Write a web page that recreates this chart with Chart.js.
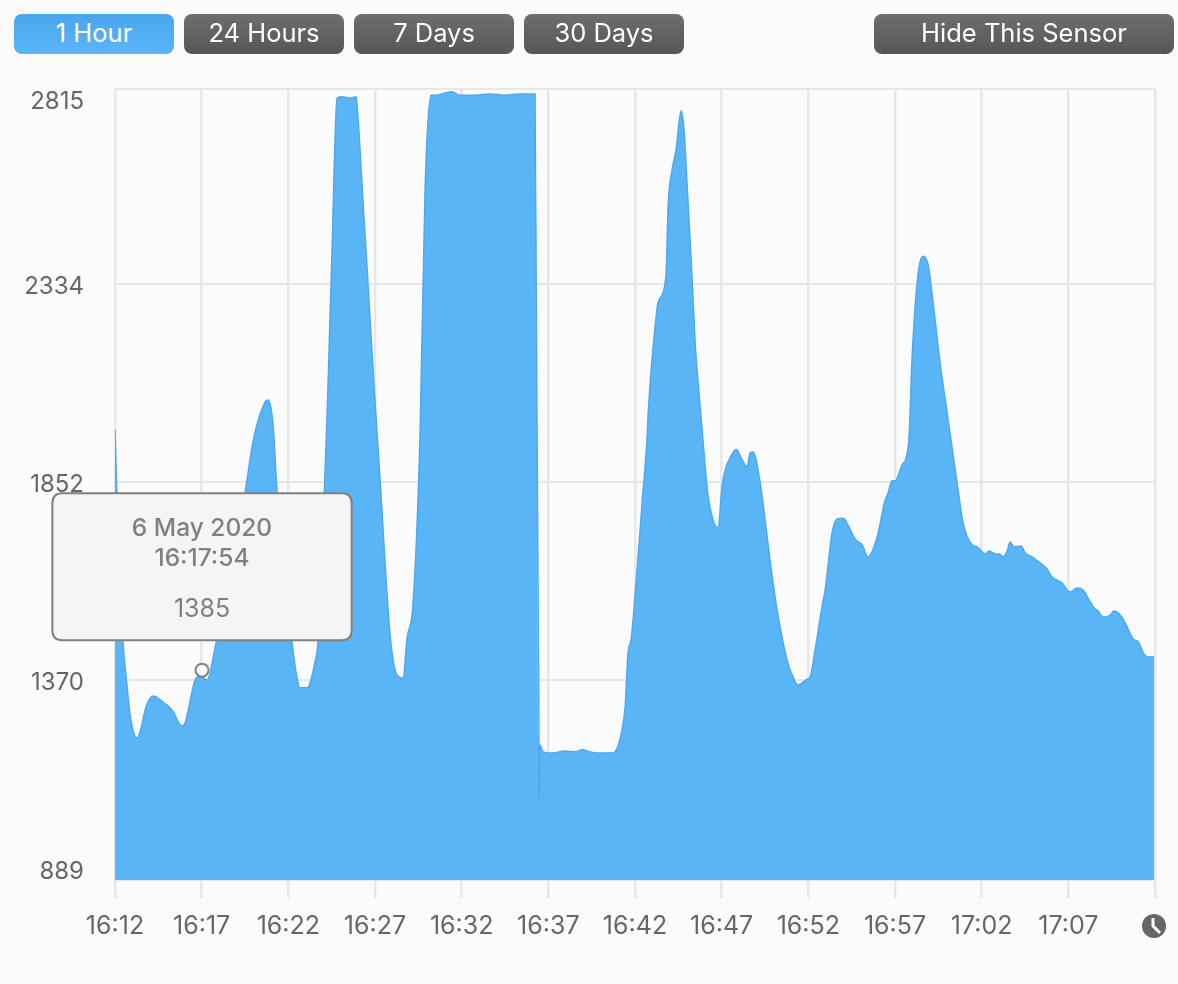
<!DOCTYPE html>
<html>
<head>
<meta charset="utf-8">
<title>Sensor history</title>
<script src="https://cdn.jsdelivr.net/npm/chart.js@4/dist/chart.umd.min.js"></script>
<style>
    html, body { margin: 0; padding: 0; background: #fbfbfb; overflow: hidden; }
    #wrap { position: relative; width: 1178px; height: 984px; }
    canvas { position: absolute; left: 0; top: 0; }
    .btn {
        position: absolute; top: 14px; height: 40px; text-align: center;
        border-radius: 8px; color: #fff; font: 25.5px Inter, sans-serif; line-height: 38px;
        background: linear-gradient(#6e6e6e, #565656);
    }
    .btn.active { background: linear-gradient(#4aa6ec, #5ab6f8); }
    #clock { position: absolute; left: 1142px; top: 914px; }
</style>
</head>
<body>
<div id="wrap">
    <canvas id="sensorChart" width="1178" height="984"></canvas>
    <div class="btn active" style="left:14px;width:160px">1 Hour</div>
    <div class="btn" style="left:184px;width:160px">24 Hours</div>
    <div class="btn" style="left:354px;width:160px">7 Days</div>
    <div class="btn" style="left:524px;width:160px">30 Days</div>
    <div class="btn" style="left:874px;width:300px">Hide This Sensor</div>
    <svg id="clock" width="24" height="24" viewBox="0 0 24 24">
        <circle cx="12" cy="12" r="12" fill="#666"/>
        <polyline points="11,4 11,12 18,19" fill="none" stroke="#fff" stroke-width="3"/>
    </svg>
</div>
<script>
// minutes since 16:12
const minutes = [
    0, 0.12, 0.35, 0.46, 0.69, 0.87, 1.27, 1.44, 1.79, 2.19, 2.77, 3.29, 3.87, 4.04, 4.62, 4.9, 5.31, 5.77,
    7.5, 7.96, 8.66, 8.83, 9.12, 9.35, 10.21, 10.5, 10.67, 11.08, 11.54, 11.71, 12.23, 12.29, 12.52, 12.81,
    13.1, 13.56, 13.91, 14.02, 14.31, 14.6, 14.94, 15.41, 15.46, 15.87, 16.27, 16.62, 16.85, 17.19, 17.6,
    17.89, 18.23, 18.52, 18.87, 19.44, 19.91, 20.77, 21.64, 22.5, 23.37, 24.23, 24.46, 24.47, 24.52, 24.7,
    25.27, 25.97, 26.54, 26.95, 27.41, 27.98, 28.73, 29.25, 29.43, 29.6, 29.77, 30, 30.41, 30.7, 30.75,
    30.98, 31.22, 31.33, 31.79, 31.91, 32.14, 32.37, 32.66, 32.83, 33, 33.29, 33.47, 33.58, 33.81, 34.22,
    34.5, 34.62, 34.79, 35.02, 35.2, 35.49, 35.83, 36.18, 36.47, 36.64, 36.81, 37.22, 37.79, 38.2, 38.77,
    39.12, 39.41, 39.93, 40.1, 40.39, 40.79, 40.97, 41.37, 41.66, 42.01, 42.29, 42.7, 43.1, 43.45, 43.97,
    44.43, 44.6, 44.83, 45.01, 45.41, 45.64, 45.81, 45.99, 46.16, 46.39, 46.62, 46.91, 47.2, 47.6, 48.01,
    48.58, 48.93, 49.45, 49.74, 50.2, 50.43, 50.78, 51.01, 51.24, 51.47, 51.64, 51.87, 52.28, 52.51, 52.91,
    53.37, 53.72, 54.06, 54.64, 55.1, 55.51, 55.85, 56.26, 56.49, 56.72, 57.01, 57.41, 57.64, 57.93, 58.28,
    58.74, 59.03, 59.32, 59.6, 59.95
];
const readings = [
    1985, 1814, 1571, 1469, 1364, 1291, 1235, 1249, 1310, 1337, 1322, 1303, 1264, 1271, 1376, 1386, 1376, 1454,
    1831, 1956, 2053, 2058, 1997, 1834, 1469, 1381, 1357, 1357, 1420, 1469, 2014, 2094, 2418, 2793,
    2796, 2793, 2796, 2744, 2540, 2338, 2094, 1785, 1746, 1486, 1388, 1381, 1478, 1559, 1973,
    2569, 2800, 2800, 2803, 2808, 2800, 2800, 2803, 2800, 2803, 2803, 1218, 1084, 1218, 1201,
    1198, 1203, 1201, 1206, 1201, 1198, 1198, 1254, 1310, 1442, 1473, 1578, 1807, 1968, 2016,
    2155, 2260, 2296, 2362, 2528, 2618, 2667, 2762, 2715, 2586, 2357, 2197, 2131, 2016, 1822,
    1766, 1753, 1746, 1846, 1887, 1917, 1938, 1912, 1895, 1929, 1931, 1856, 1668, 1546, 1425,
    1383, 1364, 1378, 1383, 1449, 1554, 1595, 1734, 1768, 1770, 1753, 1719, 1705, 1676, 1724,
    1814, 1831, 1861, 1861, 1900, 1917, 1968, 2163, 2284, 2382, 2408, 2387, 2294, 2148, 2026,
    1856, 1758, 1705, 1700, 1683, 1690, 1683, 1683, 1676, 1690, 1712, 1700, 1702, 1685, 1676,
    1661, 1649, 1627, 1612, 1590, 1600, 1595, 1566, 1551, 1544, 1529, 1534, 1544, 1537, 1515,
    1476, 1469, 1442, 1432, 1432
];

const xTickLabels = ['16:12', '16:17', '16:22', '16:27', '16:32', '16:37', '16:42', '16:47', '16:52', '16:57', '17:02', '17:07', ''];
// grid rows as they sit in the picture, the labels are what the axis prints
const yTickValues = [889, 1375, 1857, 2340, 2815];
const yTickLabels = ['889', '1370', '1852', '2334', '2815'];

const markerMinute = [5.02];
const markerValue = [1400];
const tipTitle = ['6 May 2020', '16:17:54'];
const tipBody = ['1385'];

const UI_FONT = 'Inter, sans-serif';

Chart.Tooltip.positioners.aboveMarker = function (items) {
    if (!items.length) return false;
    return { x: items[0].element.x, y: items[0].element.y - 103.5 };
};

const chart = new Chart(document.getElementById('sensorChart').getContext('2d'), {
    type: 'line',
    data: {
        datasets: [{
            data: markerMinute.map((m, i) => ({ x: m, y: markerValue[i] })),
            showLine: false,
            pointRadius: 6.5,
            pointBorderWidth: 2,
            pointBackgroundColor: '#fbfbfb',
            pointBorderColor: '#808080'
        }, {
            data: minutes.map((m, i) => ({ x: m, y: readings[i] })),
            borderColor: '#4fa8ee',
            borderWidth: 1.5,
            backgroundColor: '#5ab5f7',
            fill: 'start',
            pointRadius: 0,
            cubicInterpolationMode: 'monotone'
        }]
    },
    options: {
        responsive: false,
        animation: false,
        events: [],
        layout: { padding: { top: 89, right: 23, bottom: 0, left: 0 } },
        plugins: {
            legend: { display: false },
            tooltip: {
                animation: false,
                position: 'aboveMarker',
                xAlign: 'center',
                yAlign: 'center',
                caretSize: 0,
                caretPadding: 0,
                displayColors: false,
                backgroundColor: '#f5f5f5',
                borderColor: '#808080',
                borderWidth: 2,
                cornerRadius: 10,
                padding: { left: 79.5, right: 79.5, top: 21, bottom: 16 },
                titleColor: '#808080',
                bodyColor: '#808080',
                titleAlign: 'center',
                bodyAlign: 'center',
                titleFont: { family: UI_FONT, size: 24.5, weight: '500', lineHeight: '30px' },
                bodyFont: { family: UI_FONT, size: 25, weight: '400', lineHeight: '30px' },
                titleSpacing: 0,
                titleMarginBottom: 20,
                callbacks: {
                    title: () => tipTitle,
                    label: () => tipBody[0]
                }
            }
        },
        scales: {
            x: {
                type: 'linear',
                min: 0,
                max: 60,
                afterFit: s => { s.height = 104; },
                border: { display: false },
                grid: { color: '#e7e7e7', lineWidth: 2.5, tickLength: 18 },
                ticks: {
                    stepSize: 5,
                    autoSkip: false,
                    maxRotation: 0,
                    padding: 13,
                    color: '#666',
                    font: { family: UI_FONT, size: 25 },
                    callback: (v, i) => xTickLabels[i]
                }
            },
            y: {
                min: 889,
                max: 2815,
                afterBuildTicks: s => { s.ticks = yTickValues.map(v => ({ value: v })); },
                afterFit: s => { s.width = 115; },
                border: { display: false },
                grid: { color: '#e7e7e7', lineWidth: 2, drawTicks: false },
                ticks: {
                    padding: 31,
                    labelOffset: 2.5,
                    color: '#666',
                    font: { family: UI_FONT, size: 24, lineHeight: '21px' },
                    // an empty line pushes the two end labels inside the plot
                    callback: (v, i) => i === 0 ? [yTickLabels[i], ''] : i === yTickLabels.length - 1 ? ['', yTickLabels[i]] : yTickLabels[i]
                }
            }
        }
    }
});

chart.tooltip.setActiveElements([{ datasetIndex: 0, index: 0 }], { x: 0, y: 0 });
chart.render();
</script>
</body>
</html>
